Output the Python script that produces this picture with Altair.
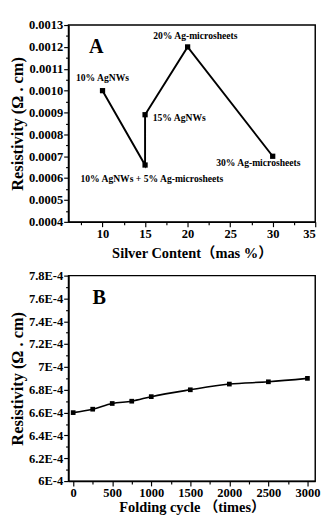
import altair as alt
import pandas as pd

# ---- Panel A data ----
content = [10, 15, 15, 20, 30]
resist_a = [0.0010, 0.00066, 0.00089, 0.0012, 0.0007]
labels_a = ["10% AgNWs", "10% AgNWs + 5% Ag-microsheets", "15% AgNWs",
            "20% Ag-microsheets", "30% Ag-microsheets"]

# ---- Panel B data ----
cycles = [0, 250, 500, 750, 1000, 1500, 2000, 2500, 3000]
resist_b = [6.60e-4, 6.63e-4, 6.68e-4, 6.70e-4, 6.74e-4, 6.80e-4, 6.85e-4, 6.87e-4, 6.90e-4]

# tick values
a_xticks = [7.5, 10, 12.5, 15, 17.5, 20, 22.5, 25, 27.5, 30, 32.5, 35]
a_yticks = [round(0.0004 + 0.00005 * i, 6) for i in range(19)]
b_xticks = [0, 250, 500, 750, 1000, 1250, 1500, 1750, 2000, 2250, 2500, 2750, 3000]
b_yticks = [round(6.0e-4 + 1e-5 * i, 7) for i in range(19)]

df_a = pd.DataFrame({"x": content, "y": resist_a, "label": labels_a, "order": list(range(len(content)))})
df_b = pd.DataFrame({"x": cycles, "y": resist_b})

SERIF = "Liberation Serif"
TITLE_FONT = "Liberation Serif, Noto Sans CJK SC"

common = dict(labelFont=SERIF, labelFontWeight="bold", labelFontSize=13, labelColor="black",
              titleFont=TITLE_FONT, titleFontWeight="bold", titleColor="black",
              domainColor="black", domainWidth=1.5, tickColor="black", tickWidth=1.2,
              grid=False, labelOverlap=False, labelPadding=1)

W, HA, HB = 257, 205, 214

# ---- Panel A ----
xa = alt.X("x:Q", scale=alt.Scale(domain=[6, 35], nice=False, zero=False),
           axis=alt.Axis(values=a_xticks, title="Silver Content（mas %）", titleFontSize=15,
                         titlePadding=6,
                         labelExpr="datum.value % 5 === 0 ? format(datum.value, 'd') : ''",
                         tickSize={"condition": {"test": "datum.value % 5 === 0", "value": 5}, "value": 3},
                         **common))
ya = alt.Y("y:Q", scale=alt.Scale(domain=[0.0004, 0.0013], nice=False, zero=False),
           axis=alt.Axis(values=a_yticks, title="Resistivity (Ω . cm)", titleFontSize=17,
                         titlePadding=2,
                         labelExpr="round(datum.value*20000) % 2 === 0 ? format(datum.value, '.4f') : ''",
                         tickSize={"condition": {"test": "round(datum.value*20000) % 2 === 0", "value": 5}, "value": 3},
                         **common))

base_a = alt.Chart(df_a).encode(x=xa, y=ya)
line_a = base_a.mark_line(color="black", strokeWidth=2).encode(order="order:Q")
pts_a = base_a.mark_square(color="black", size=30, opacity=1)

label_styles = {
    "10% AgNWs": dict(dx=0, dy=-13, align="center"),
    "10% AgNWs + 5% Ag-microsheets": dict(dx=7, dy=15, align="center"),
    "15% AgNWs": dict(dx=8, dy=4, align="left"),
    "20% Ag-microsheets": dict(dx=8, dy=-11, align="center"),
    "30% Ag-microsheets": dict(dx=-15, dy=7, align="center"),
}
texts_a = []
for lab, st in label_styles.items():
    texts_a.append(
        base_a.transform_filter(alt.datum.label == lab)
        .mark_text(font=SERIF, fontWeight="bold", fontSize=10, color="black", baseline="middle", **st)
        .encode(text="label:N")
    )
letter_a = alt.Chart(pd.DataFrame({"t": ["A"]})).mark_text(
    font=SERIF, fontWeight="bold", fontSize=21, color="black"
).encode(x=alt.value(29), y=alt.value(23), text="t:N")

chart_a = alt.layer(line_a, pts_a, *texts_a, letter_a).properties(width=W, height=HA)

# ---- Panel B ----
xb = alt.X("x:Q", scale=alt.Scale(domain=[-60, 3100], nice=False, zero=False),
           axis=alt.Axis(values=b_xticks, title="Folding cycle （times）", titleFontSize=15,
                         titlePadding=1,
                         labelExpr="datum.value % 500 === 0 ? format(datum.value, 'd') : ''",
                         tickSize={"condition": {"test": "datum.value % 500 === 0", "value": 5}, "value": 3},
                         **common))
yb = alt.Y("y:Q", scale=alt.Scale(domain=[6.0e-4, 7.8e-4], nice=False, zero=False),
           axis=alt.Axis(values=b_yticks, title="Resistivity (Ω . cm)", titleFontSize=17,
                         titlePadding=2,
                         labelExpr="round(datum.value*100000) % 2 === 0 ? format(datum.value*10000, '.2~g') + 'E-4' : ''",
                         tickSize={"condition": {"test": "round(datum.value*100000) % 2 === 0", "value": 5}, "value": 3},
                         **common))

base_b = alt.Chart(df_b).encode(x=xb, y=yb)
line_b = base_b.mark_line(color="black", strokeWidth=1.6, interpolate="monotone")
pts_b = base_b.mark_square(color="black", size=24, opacity=1)
letter_b = alt.Chart(pd.DataFrame({"t": ["B"]})).mark_text(
    font=SERIF, fontWeight="bold", fontSize=21, color="black"
).encode(x=alt.value(32), y=alt.value(24), text="t:N")

chart_b = alt.layer(line_b, pts_b, letter_b).properties(width=W, height=HB)

chart = (
    alt.vconcat(chart_a, chart_b, spacing=8)
    .properties(padding=0, background="white")
    .configure_view(stroke="black", strokeWidth=1.5)
    .configure_axis(labelOverlap=False)
)

chart.save("out.html", embed_options={"renderer": "svg", "actions": False})
